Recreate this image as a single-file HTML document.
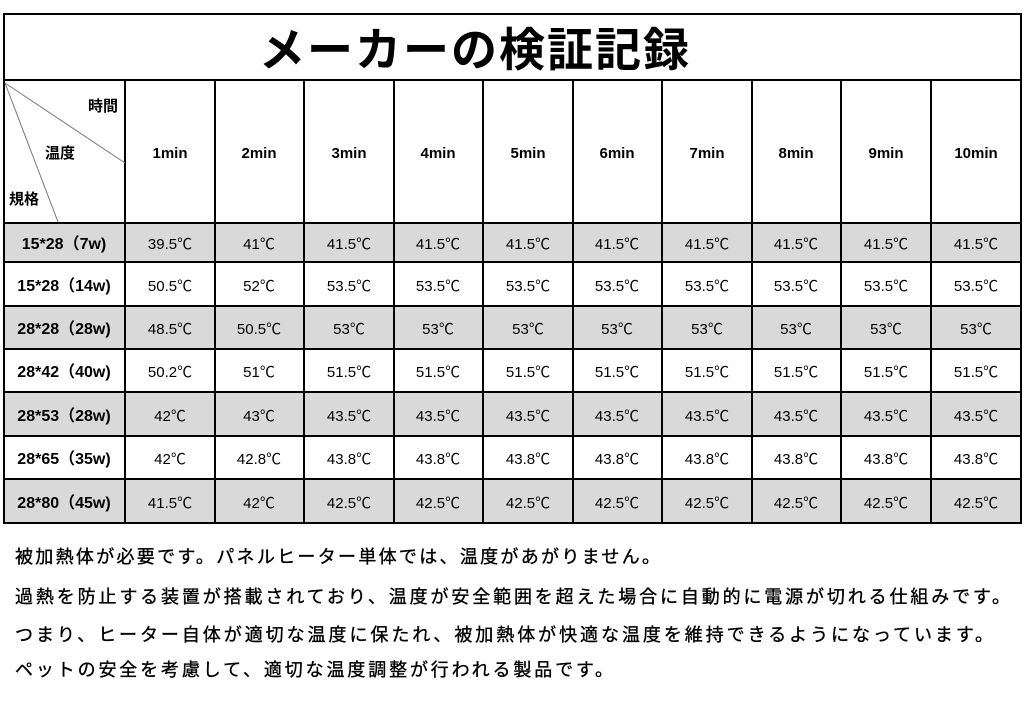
<!DOCTYPE html>
<html><head><meta charset="utf-8"><style>
body{margin:0;background:#fff;}
svg text{font-family:"Liberation Sans","Noto Sans CJK JP",sans-serif;}
</style></head><body>
<svg width="1030" height="703" xmlns="http://www.w3.org/2000/svg">
<rect width="1030" height="703" fill="#fff"/>
<g fill="#d9d9d9">
<rect x="4" y="223" width="1017" height="39"/>
<rect x="4" y="306" width="1017" height="43"/>
<rect x="4" y="392" width="1017" height="44"/>
<rect x="4" y="479" width="1017" height="44"/>
</g>
<g stroke="#000" stroke-width="2" fill="none">
<rect x="4" y="14" width="1017" height="509"/>
<line x1="4" y1="80" x2="1021" y2="80"/>
<line x1="4" y1="223" x2="1021" y2="223"/>
<line x1="4" y1="262" x2="1021" y2="262"/>
<line x1="4" y1="306" x2="1021" y2="306"/>
<line x1="4" y1="349" x2="1021" y2="349"/>
<line x1="4" y1="392" x2="1021" y2="392"/>
<line x1="4" y1="436" x2="1021" y2="436"/>
<line x1="4" y1="479" x2="1021" y2="479"/>
<line x1="125" y1="80" x2="125" y2="523"/>
<line x1="215" y1="80" x2="215" y2="523"/>
<line x1="304" y1="80" x2="304" y2="523"/>
<line x1="394" y1="80" x2="394" y2="523"/>
<line x1="483" y1="80" x2="483" y2="523"/>
<line x1="573" y1="80" x2="573" y2="523"/>
<line x1="662" y1="80" x2="662" y2="523"/>
<line x1="752" y1="80" x2="752" y2="523"/>
<line x1="841" y1="80" x2="841" y2="523"/>
<line x1="931" y1="80" x2="931" y2="523"/>
</g>
<g stroke="#777" stroke-width="1">
<line x1="5" y1="83" x2="125" y2="163"/>
<line x1="5" y1="83" x2="58" y2="222"/>
</g>
<text x="474" y="66" font-size="46" font-weight="bold" text-anchor="middle" textLength="430">メーカーの検証記録</text>
<g font-size="15" font-weight="bold">
<text x="88" y="111">時間</text>
<text x="45" y="158">温度</text>
<text x="9" y="204">規格</text>
</g>
<g font-size="15" font-weight="bold" text-anchor="middle">
<text x="170" y="158">1min</text><text x="259" y="158">2min</text><text x="349" y="158">3min</text><text x="438" y="158">4min</text><text x="528" y="158">5min</text><text x="617" y="158">6min</text><text x="707" y="158">7min</text><text x="796" y="158">8min</text><text x="886" y="158">9min</text><text x="976" y="158">10min</text>
</g>
<g font-size="16" font-weight="bold" text-anchor="middle">
<text x="64" y="249">15*28（7w)</text>
<text x="64" y="291">15*28（14w)</text>
<text x="64" y="334">28*28（28w)</text>
<text x="64" y="377">28*42（40w)</text>
<text x="64" y="421">28*53（28w)</text>
<text x="64" y="464">28*65（35w)</text>
<text x="64" y="508">28*80（45w)</text>
</g>
<g font-size="15" text-anchor="middle">
<text y="249"><tspan x="170">39.5℃</tspan><tspan x="259">41℃</tspan><tspan x="349">41.5℃</tspan><tspan x="438">41.5℃</tspan><tspan x="528">41.5℃</tspan><tspan x="617">41.5℃</tspan><tspan x="707">41.5℃</tspan><tspan x="796">41.5℃</tspan><tspan x="886">41.5℃</tspan><tspan x="976">41.5℃</tspan></text>
<text y="291"><tspan x="170">50.5℃</tspan><tspan x="259">52℃</tspan><tspan x="349">53.5℃</tspan><tspan x="438">53.5℃</tspan><tspan x="528">53.5℃</tspan><tspan x="617">53.5℃</tspan><tspan x="707">53.5℃</tspan><tspan x="796">53.5℃</tspan><tspan x="886">53.5℃</tspan><tspan x="976">53.5℃</tspan></text>
<text y="334"><tspan x="170">48.5℃</tspan><tspan x="259">50.5℃</tspan><tspan x="349">53℃</tspan><tspan x="438">53℃</tspan><tspan x="528">53℃</tspan><tspan x="617">53℃</tspan><tspan x="707">53℃</tspan><tspan x="796">53℃</tspan><tspan x="886">53℃</tspan><tspan x="976">53℃</tspan></text>
<text y="377"><tspan x="170">50.2℃</tspan><tspan x="259">51℃</tspan><tspan x="349">51.5℃</tspan><tspan x="438">51.5℃</tspan><tspan x="528">51.5℃</tspan><tspan x="617">51.5℃</tspan><tspan x="707">51.5℃</tspan><tspan x="796">51.5℃</tspan><tspan x="886">51.5℃</tspan><tspan x="976">51.5℃</tspan></text>
<text y="421"><tspan x="170">42℃</tspan><tspan x="259">43℃</tspan><tspan x="349">43.5℃</tspan><tspan x="438">43.5℃</tspan><tspan x="528">43.5℃</tspan><tspan x="617">43.5℃</tspan><tspan x="707">43.5℃</tspan><tspan x="796">43.5℃</tspan><tspan x="886">43.5℃</tspan><tspan x="976">43.5℃</tspan></text>
<text y="464"><tspan x="170">42℃</tspan><tspan x="259">42.8℃</tspan><tspan x="349">43.8℃</tspan><tspan x="438">43.8℃</tspan><tspan x="528">43.8℃</tspan><tspan x="617">43.8℃</tspan><tspan x="707">43.8℃</tspan><tspan x="796">43.8℃</tspan><tspan x="886">43.8℃</tspan><tspan x="976">43.8℃</tspan></text>
<text y="508"><tspan x="170">41.5℃</tspan><tspan x="259">42℃</tspan><tspan x="349">42.5℃</tspan><tspan x="438">42.5℃</tspan><tspan x="528">42.5℃</tspan><tspan x="617">42.5℃</tspan><tspan x="707">42.5℃</tspan><tspan x="796">42.5℃</tspan><tspan x="886">42.5℃</tspan><tspan x="976">42.5℃</tspan></text>
</g>
<g font-size="18" stroke="#000" stroke-width="0.35">
<text x="15" y="563" textLength="645">被加熱体が必要です。パネルヒーター単体では、温度があがりません。</text>
<text x="15" y="603" textLength="995">過熱を防止する装置が搭載されており、温度が安全範囲を超えた場合に自動的に電源が切れる仕組みです。</text>
<text x="15" y="641" textLength="978">つまり、ヒーター自体が適切な温度に保たれ、被加熱体が快適な温度を維持できるようになっています。</text>
<text x="15" y="676" textLength="598">ペットの安全を考慮して、適切な温度調整が行われる製品です。</text>
</g>
</svg>
</body></html>
